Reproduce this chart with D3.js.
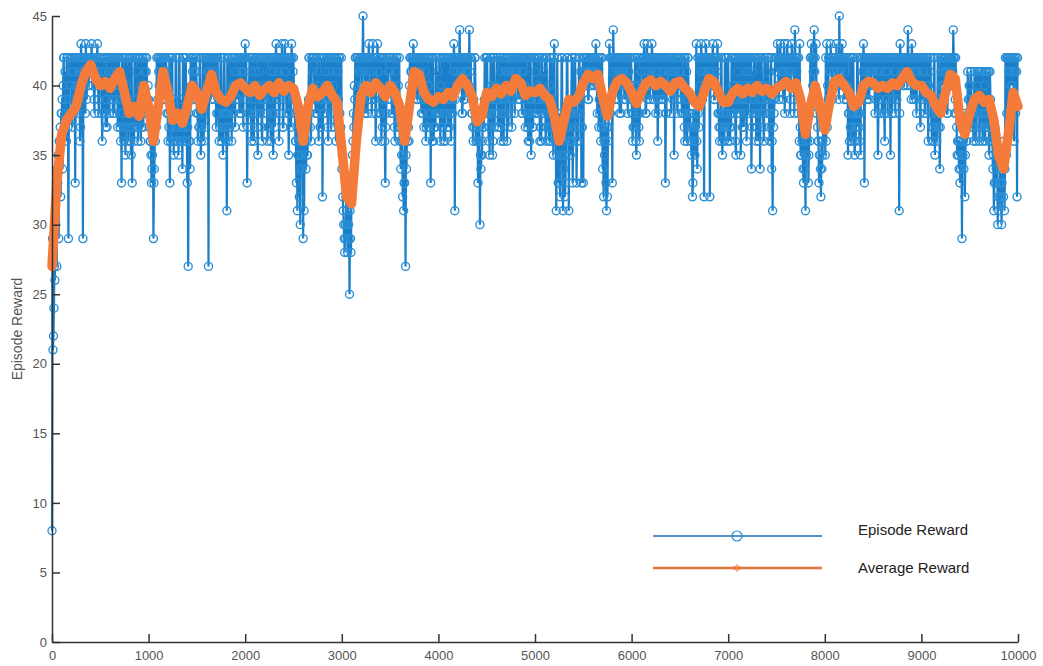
<!DOCTYPE html>
<html>
<head>
  <meta charset="utf-8">
  <title>Episode Reward</title>
  <script src="https://d3js.org/d3.v7.min.js"></script>
  <style>
    body { margin: 0; background: #fff; }
    .tick text { font-family: "Liberation Sans", Arial, sans-serif; font-size: 13px; fill: #555; }
  </style>
</head>
<body>
  <div id="chart"></div>
  <script>
    // episode reward, one letter per 10 episodes, each string = 500 episodes
    // a=20 ... z=45, capitals A=0 ... T=19
    // episodes 0, 10, 20, ...
    var episodeCodes = [
      "Ibegkhnjqm sowrtqwjsu wrvtnwsuwq xwjvwxtwuv wxuwsvwxtw",
      "wuqvswtrwu vwtswuwvrw sqnwrtpwsq rwpnsqwrtq wsqrwuvswt",
      "tsqnpjoqrs wuvwtwvuws qrnwsqprwq rpwqsorwqs nhqowtwuvw",
      "sqrwprtqws wvhwuwvwtw rwsqtwrpws qlswrtqwsv wutwswvwrw",
      "xwnsuwrtwq vwspuwtrws tuwqrwvswp wsxuwqtwxr wxvswpuwxt",
      "wsqnlpmkqo jlqoprwsqw vwtswuqwrt mwsuwtqvwr wuswqtvwsr",
      "omkijlikfj mpsuwrwtvw wuzwsvwtxw tsxwuqwxvs wqrtwnswuv",
      "vwsuwqtwrs qopmlnhoqr uwvwxwvuwt wvtwsrwqtw rsnwtqsrwt",
      "swqrtwsqwt rwsqwtxlwu wuywvswtwu vwywtsqrwq rnqkopsrwt",
      "wsqpwupwrt uwsrwqtwsv wqsuwvrtws vwtwuwvswu rwsqwtpsrw",
      "wtsuwqrwsv tqwsruqwsp xqlwnsmpwl ompwrlqswn rwtnsqwtnr",
      "nwvuwtwvwu wvwxuwrsqw ompqlmrxsw nywuvwtwvs wuvwtwsvwu",
      "tqsrwpusqw vwuxwsxvwt wxuwvswqtw uwvtwnswvu wswvpuwtwv",
      "wtsuwqsvwt rqpmsqrxos wuxwvmwxuw vmwuxwtwvx sqrwpsqrwt",
      "wtqrwsuwpt vwspwtrwuq wsuwovtwsq rwtowusqwv twsqwolrtw",
      "wxuwxvwtxw uxwvswxwuy wvtwxpsqno lpqnswxwvy wxsqnpmoqr",
      "swxuwvxwtw vwxuwzvwxw twvupswrqw spqrwsqptw xnwvuwtwvw",
      "wuswvpwtws uwqvwswupw twvswuwlxw vwuwvwywvu xwtwvswuwr",
      "wtvwsuwqtw sqrwpsqwro wuvwtwvswu vwuywtspqo nqjpomrqvs",
      "tvrsqvtrvs qvsrtvqsvr pvqsolrnpk lmnkomlwpw wsvwuwqvwm"
    ];
    // episodes 5, 15, 25, ...
    var episodeCodesB = [
      "jchlnopqrs tuwvswrtwu vwswuwtvwr wvuwsvwuwv wvwtwuwvsw",
      "vswuwrtwvs wuwvswtwuw rtwsqwrusw sqwrtwsvwr swuwrtwvsu",
      "rqpoqnrswt vwuwvwtwvu swqrwtsqwr swqtrwsqwr rsqwuvwtwv",
      "tsrwqswtrw uwvwtwuwvw swtrwqstwr swqrtwuswr tvwuwswvwu",
      "wtrswvqwsu wtrwvswqtw uwsrwtqwsv rwtwvswuwr vwtwuswrwv",
      "tsqrpqoqpr qsrqptwrtw wutwsvwrtw swvtwrwusw twrvwstwqw",
      "pljkmkmjli nqrtwswuwv twvwuwswvw wuvtwswvuw swtwqrwtvw",
      "wtswrvwsuw rqspnqprsq wvwuwvwtwv uwswtwvrwu swtqwrtwsv",
      "tsuwrqwtsw wrtwsvwtwv uwvwswtwvw wuvwsrtwsq sqrppqrtsw",
      "wtrswtqwsu wrtwvswqtw vwrtwswuvw wvuwtwswvw tsrwqwtrws",
      "vwstwrqwts wrtsqwrtsw qrpsqnrwpr qnrwsqpswq swtqrwsvrw",
      "vwuwvtwuwv wuwvswtwrw rqsnrqswtw vwtwuwvswu vwtwuwvwtw",
      "sruwqtwrsv wuwvswtwuw vwtwuwvsww tvwuwswvwu vwtwuvwswu",
      "vwusrwtqws sqrnrpsqwr wvwtwuwvwu wuwvwtwuws rswqsrwtsq",
      "trswuwtqws wuwtrwsvwt vwtwrswuwr sqwuwtrwsu wtrswqtswv",
      "vwtwuwvwsw vwuwtwvwsw uwsqrpqorp qrspqwtuwv tsrqpoqprs",
      "pqrtwvwuwv wuvwtwvwuw uwtwsqrwsw qrswtrswuv wuwtwvwuwv",
      "vwtwuswvwu wswtwvwuws uwvwtwuswv wuvwvuwvwt wvuwtwvwsw",
      "uwvswtwuvw rsqwtrswtr vwuwvwswvw uwvwswrqpq oprqspqrtu",
      "uvsrtvqusv rtvqsuvrtv qtrqpnqopm nomnpqowsw vwuwvtwsvw"
    ];

    // average reward, every 50 episodes
    var avgReward = [
      27, 33, 36.5, 37.5, 38, 38.5, 40, 41, 41.5, 40.5,
      40, 40.3, 39.8, 40.5, 41, 39.5, 38, 38.5, 37.8, 40,
      38.5, 36, 38.5, 41, 39.5, 37.5, 38, 37.3, 38.5, 40,
      39.5, 38.3, 39.5, 40.8, 39.5, 39, 38.8, 39.2, 40, 40.2,
      39.8, 39.5, 40, 39.3, 39.7, 40, 39.5, 40.2, 39.6, 40,
      39.8, 38.5, 36, 38.5, 39.8, 39.2, 39.5, 40, 39.3, 38.8,
      35.5, 32, 31.5, 36, 39.3, 40, 39.5, 40.2, 39.8, 39.2,
      40, 39.5, 38.5, 36, 38.5, 41, 40.8, 39.5, 39, 38.8,
      39.2, 39, 39.5, 39.2, 40, 40.5, 40, 39.2, 37.4, 37.8,
      39.5, 39.2, 39.8, 39.4, 40, 39.6, 40.5, 40.2, 39.3, 39.6,
      39.5, 39.8, 39.3, 39, 37.8, 36, 37.5, 39, 38.8, 39.2,
      40.2, 40.8, 40.5, 40.8, 39.2, 37.8, 39.5, 40.3, 40.5, 40.2,
      39.5, 38.7, 39.5, 40.2, 40.4, 40, 40.3, 40, 39.6, 40.2,
      40.3, 39.8, 39.5, 38.8, 38.5, 39.5, 40.5, 40.3, 39.5, 38.8,
      38.8, 39.5, 39.8, 39.4, 39.8, 39.5, 40, 39.6, 39.8, 39.4,
      39.8, 40, 40.3, 39.8, 40.2, 39, 36.5, 38.5, 40, 38.5,
      36.8, 38.8, 40.3, 40.5, 40, 39.5, 38.5, 38.8, 40, 40.3,
      40.2, 39.8, 40, 39.8, 40.2, 40, 40.5, 41, 40.3, 40,
      40, 39.5, 39.3, 38.5, 38, 39.5, 40.8, 40.5, 37.5, 36.5,
      38, 39, 39.3, 38.8, 39, 37.5, 35, 34, 36.5, 39.5,
      38.5
    ];

    var xTicks = [0, 1000, 2000, 3000, 4000, 5000, 6000, 7000, 8000, 9000, 10000];
    var yTicks = [0, 5, 10, 15, 20, 25, 30, 35, 40, 45];
    var legendLabels = ["Episode Reward", "Average Reward"];

    var width = 1043, height = 666;
    var blueLine = "#1a7fc8", blueMarker = "#2a8fd6", orange = "#f47b3a";

    function decode(c) {
      var k = c.charCodeAt(0);
      return k >= 97 ? k - 97 + 20 : k - 65;
    }

    var episodes = [];
    [[episodeCodes, 0], [episodeCodesB, 5]].forEach(function (pair) {
      pair[0].forEach(function (s, seg) {
        s.replace(/\s/g, "").split("").forEach(function (c, j) {
          episodes.push({ ep: seg * 500 + j * 10 + pair[1], r: decode(c) });
        });
      });
    });
    episodes.sort(function (a, b) { return a.ep - b.ep; });
    var average = avgReward.map(function (v, i) { return { ep: i * 50, r: v }; });

    var x = d3.scaleLinear().domain([0, 10000]).range([52, 1018]);
    var y = d3.scaleLinear().domain([0, 45]).range([642, 16]);

    var svg = d3.select("#chart").append("svg")
      .attr("width", width).attr("height", height);

    var line = d3.line()
      .x(function (d) { return x(d.ep); })
      .y(function (d) { return y(d.r); });

    // episode reward line + hollow circle markers
    svg.append("path").datum(episodes)
      .attr("d", line)
      .attr("fill", "none")
      .attr("stroke", blueLine)
      .attr("stroke-width", 2.2);

    svg.append("g").selectAll("circle")
      .data(episodes)
      .enter().append("circle")
        .attr("cx", function (d) { return x(d.ep); })
        .attr("cy", function (d) { return y(d.r); })
        .attr("r", 4)
        .attr("fill", "none")
        .attr("stroke", blueMarker)
        .attr("stroke-width", 1.4);

    // average reward
    svg.append("path").datum(average)
      .attr("d", line)
      .attr("fill", "none")
      .attr("stroke", orange)
      .attr("stroke-width", 9.5)
      .attr("stroke-linejoin", "round")
      .attr("stroke-linecap", "round");

    // axes with inward ticks
    var xAxis = d3.axisBottom(x).tickValues(xTicks).tickFormat(d3.format("d"))
      .tickSizeInner(-8).tickSizeOuter(0).tickPadding(9);
    var yAxis = d3.axisLeft(y).tickValues(yTicks)
      .tickSizeInner(-8).tickSizeOuter(0).tickPadding(5);

    var gx = svg.append("g").attr("transform", "translate(0,642)").call(xAxis);
    var gy = svg.append("g").attr("transform", "translate(52,0)").call(yAxis);
    [gx, gy].forEach(function (g) {
      g.select(".domain").attr("stroke", "#333").attr("stroke-width", 1.5);
      g.selectAll(".tick line").attr("stroke", "#333").attr("stroke-width", 1.5);
    });

    svg.append("text")
      .attr("transform", "translate(22,329) rotate(-90)")
      .attr("text-anchor", "middle")
      .style("font-family", "Liberation Sans, Arial, sans-serif")
      .style("font-size", "14px")
      .attr("fill", "#555")
      .text("Episode Reward");

    // legend
    var legend = svg.append("g");
    var ly = [536, 568];
    legend.append("line")
      .attr("x1", 653).attr("x2", 822).attr("y1", ly[0]).attr("y2", ly[0])
      .attr("stroke", "#1f6db3").attr("stroke-width", 1.5);
    legend.append("circle")
      .attr("cx", 737).attr("cy", ly[0]).attr("r", 5)
      .attr("fill", "none").attr("stroke", blueMarker).attr("stroke-width", 1.2);
    legend.append("line")
      .attr("x1", 653).attr("x2", 822).attr("y1", ly[1]).attr("y2", ly[1])
      .attr("stroke", "#e0763e").attr("stroke-width", 2.5);
    legend.append("path")
      .attr("d", d3.symbol().type(d3.symbolAsterisk ? d3.symbolAsterisk : d3.symbolCross).size(40))
      .attr("transform", "translate(737," + ly[1] + ")")
      .attr("fill", "none").attr("stroke", orange).attr("stroke-width", 1.2);

    legend.selectAll("text.lbl")
      .data(legendLabels)
      .enter().append("text")
        .attr("class", "lbl")
        .attr("x", 858)
        .attr("y", function (d, i) { return [535, 573][i]; })
        .style("font-family", "Liberation Sans, Arial, sans-serif")
        .style("font-size", "15px")
        .attr("fill", "#222")
        .text(function (d) { return d; });
  </script>
</body>
</html>
